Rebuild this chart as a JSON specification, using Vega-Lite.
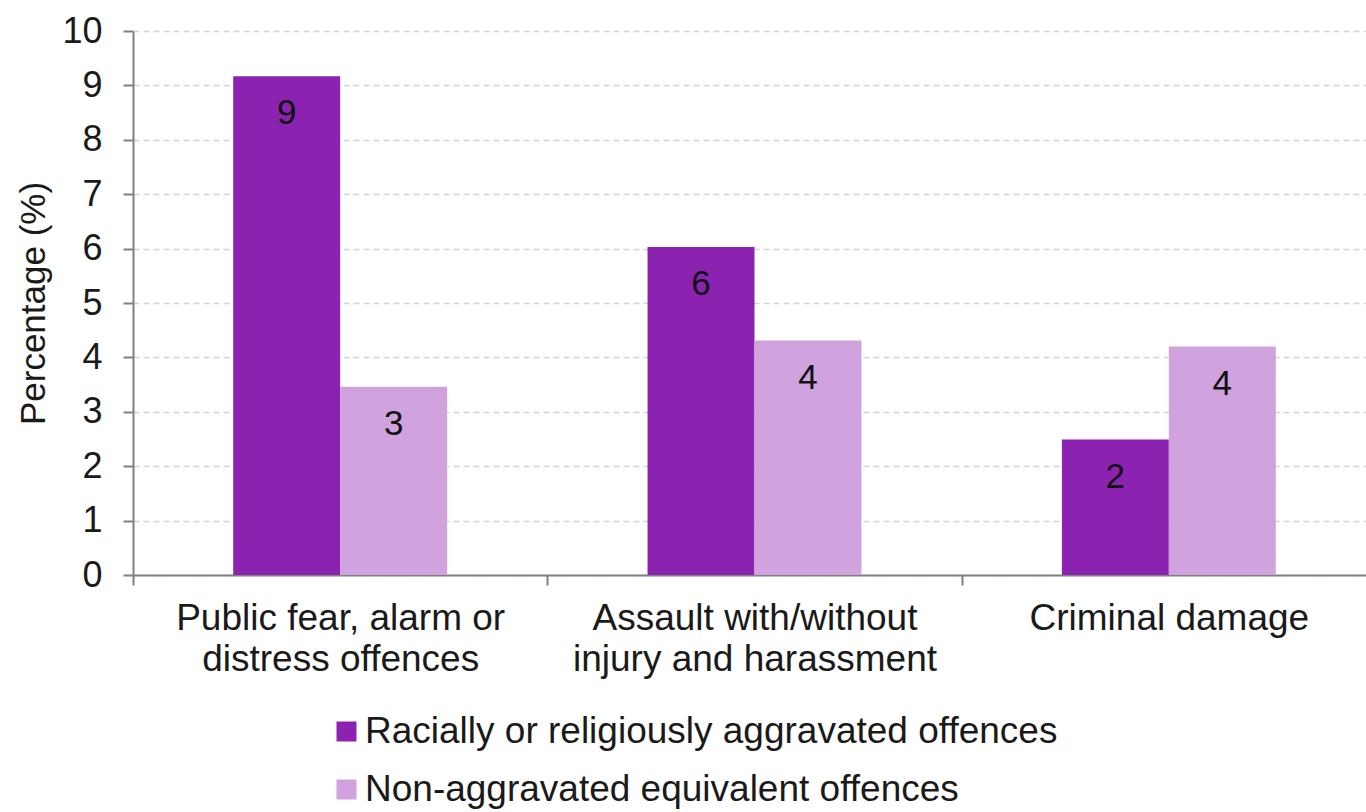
{
  "$schema": "https://vega.github.io/schema/vega-lite/v6.json",
  "autosize": {"type": "none"},
  "padding": {"left": 133, "top": 31, "right": 0, "bottom": 237},
  "width": 1233,
  "height": 544,
  "background": "white",
  "data": {
    "values": [
      {"category": "Public fear, alarm or\ndistress offences", "series": "Racially or religiously aggravated offences", "value": 9.17},
      {"category": "Public fear, alarm or\ndistress offences", "series": "Non-aggravated equivalent offences", "value": 3.46},
      {"category": "Assault with/without\ninjury and harassment", "series": "Racially or religiously aggravated offences", "value": 6.03},
      {"category": "Assault with/without\ninjury and harassment", "series": "Non-aggravated equivalent offences", "value": 4.31},
      {"category": "Criminal damage", "series": "Racially or religiously aggravated offences", "value": 2.49},
      {"category": "Criminal damage", "series": "Non-aggravated equivalent offences", "value": 4.2}
    ]
  },
  "config": {
    "view": {"stroke": null},
    "font": "Liberation Sans"
  },
  "encoding": {
    "x": {
      "field": "category",
      "type": "nominal",
      "sort": null,
      "scale": {"range": [0, 1243], "paddingInner": 0, "paddingOuter": 0},
      "axis": {
        "title": null,
        "labelAngle": 0,
        "labelExpr": "split(datum.label, '\\n')",
        "labelFont": "Liberation Sans",
        "labelFontSize": 37,
        "labelColor": "#1a1a1a",
        "labelLineHeight": 41,
        "labelPadding": 15,
        "labelBaseline": "top",
        "labelLimit": 1000,
        "tickBand": "extent",
        "tickSize": 10,
        "tickColor": "#808080",
        "tickWidth": 2,
        "domainColor": "#808080",
        "domainWidth": 2,
        "grid": false
      }
    },
    "xOffset": {
      "field": "series",
      "type": "nominal",
      "sort": ["Racially or religiously aggravated offences", "Non-aggravated equivalent offences"],
      "scale": {"paddingInner": 0, "paddingOuter": 0.937}
    },
    "y": {
      "field": "value",
      "type": "quantitative",
      "scale": {"domain": [0, 10], "nice": false},
      "axis": {
        "title": "Percentage (%)",
        "titleFont": "Liberation Sans",
        "titleFontSize": 35,
        "titleFontWeight": "normal",
        "titleColor": "#1a1a1a",
        "titleX": -100,
        "titleY": 272,
        "titleAngle": -90,
        "titleAlign": "center",
        "titleBaseline": "middle",
        "values": [0, 1, 2, 3, 4, 5, 6, 7, 8, 9, 10],
        "labelFontSize": 36,
        "labelColor": "#1a1a1a",
        "labelPadding": 21,
        "tickSize": 10,
        "tickColor": "#808080",
        "tickWidth": 2,
        "domainColor": "#808080",
        "domainWidth": 2,
        "grid": true,
        "gridColor": "#d4d4d4",
        "gridDash": [6, 4],
        "gridWidth": 1.5
      }
    }
  },
  "layer": [
    {
      "mark": {"type": "bar"},
      "encoding": {
        "color": {
          "field": "series",
          "type": "nominal",
          "sort": ["Racially or religiously aggravated offences", "Non-aggravated equivalent offences"],
          "scale": {"range": ["#8c22b0", "#d0a3df"]},
          "legend": {
            "title": null,
            "orient": "none",
            "legendX": 195,
            "legendY": 682,
            "direction": "vertical",
            "symbolType": "square",
            "symbolSize": 400,
            "symbolStrokeWidth": 0,
            "labelFont": "Liberation Sans",
            "labelFontSize": 37,
            "labelColor": "#1a1a1a",
            "labelOffset": 0,
            "labelLimit": 1000,
            "rowPadding": 20
          }
        }
      }
    },
    {
      "mark": {"type": "text", "baseline": "middle", "dy": 37, "fontSize": 35, "color": "#111111"},
      "encoding": {
        "text": {"field": "value", "type": "quantitative", "format": ".0f"}
      }
    }
  ]
}
